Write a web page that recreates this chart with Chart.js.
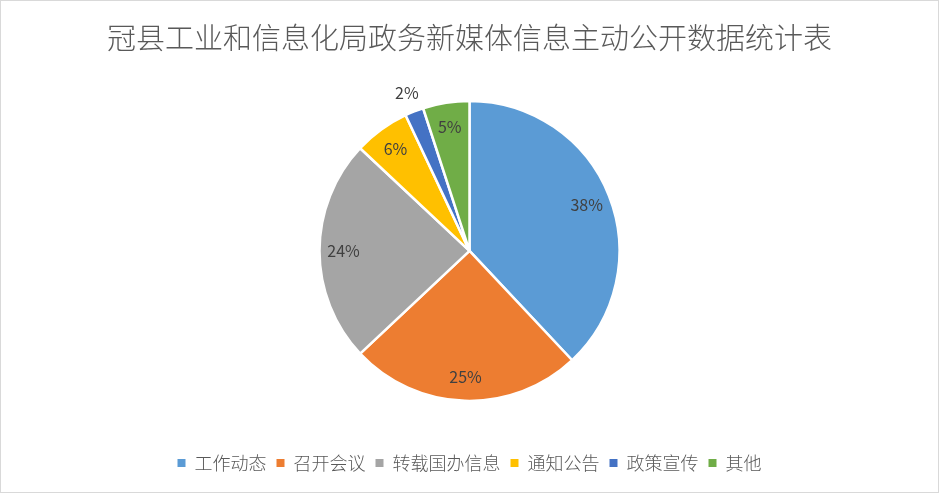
<!DOCTYPE html>
<html>
<head>
<meta charset="utf-8">
<script src="https://cdn.jsdelivr.net/npm/chart.js@4"></script>
<style>
  html, body { margin: 0; padding: 0; background: #fff; }
  #wrap { width: 939px; height: 493px; box-sizing: border-box; border: 1px solid #d9d9d9; }
</style>
</head>
<body>
<div id="wrap"><canvas id="pie"></canvas></div>
<script>
const titleText = "冠县工业和信息化局政务新媒体信息主动公开数据统计表";
const categories = ["工作动态", "召开会议", "转载国办信息", "通知公告", "政策宣传", "其他"];
const shares = [38, 25, 24, 6, 2, 5];
const sliceColors = ["#5b9bd5", "#ed7d31", "#a5a5a5", "#ffc000", "#4472c4", "#70ad47"];
const outsideLabels = [false, false, false, false, true, false];

const fontFamily = "'Noto Sans CJK SC', 'Noto Sans', sans-serif";

// draw the percent labels on (or just outside) each slice
const sliceLabels = {
  id: 'sliceLabels',
  afterDatasetsDraw(chart) {
    const ctx = chart.ctx;
    const meta = chart.getDatasetMeta(0);
    const total = shares.reduce((a, b) => a + b, 0);
    ctx.save();
    ctx.font = "16px " + fontFamily;
    ctx.fillStyle = "#404040";
    ctx.textAlign = "center";
    ctx.textBaseline = "middle";
    meta.data.forEach((arc, i) => {
      const mid = (arc.startAngle + arc.endAngle) / 2;
      const r = outsideLabels[i] ? arc.outerRadius + 20 : arc.outerRadius * 0.84;
      const x = arc.x + Math.cos(mid) * r;
      const y = arc.y + Math.sin(mid) * r;
      ctx.fillText(Math.round(shares[i] / total * 100) + "%", x, y);
    });
    ctx.restore();
  }
};

new Chart(document.getElementById("pie"), {
  type: 'pie',
  data: {
    labels: categories,
    datasets: [{
      data: shares,
      backgroundColor: sliceColors,
      borderColor: "#ffffff",
      borderWidth: 2.5,
      radius: 150
    }]
  },
  options: {
    responsive: true,
    maintainAspectRatio: false,
    animation: false,
    layout: { padding: { top: 0, bottom: 10 } },
    plugins: {
      title: {
        display: true,
        text: titleText,
        color: "#595959",
        font: { family: fontFamily, size: 29, weight: 300 },
        padding: { top: 20, bottom: 2 }
      },
      legend: {
        position: 'bottom',
        labels: {
          color: "#595959",
          font: { family: fontFamily, size: 18, weight: 300 },
          boxWidth: 8,
          boxHeight: 8,
          padding: 10,
          // no white outline on the legend squares
          generateLabels(chart) {
            return Chart.overrides.pie.plugins.legend.labels.generateLabels(chart)
              .map(item => ({ ...item, lineWidth: 0 }));
          }
        }
      },
      tooltip: { enabled: false }
    }
  },
  plugins: [sliceLabels]
});
</script>
</body>
</html>
